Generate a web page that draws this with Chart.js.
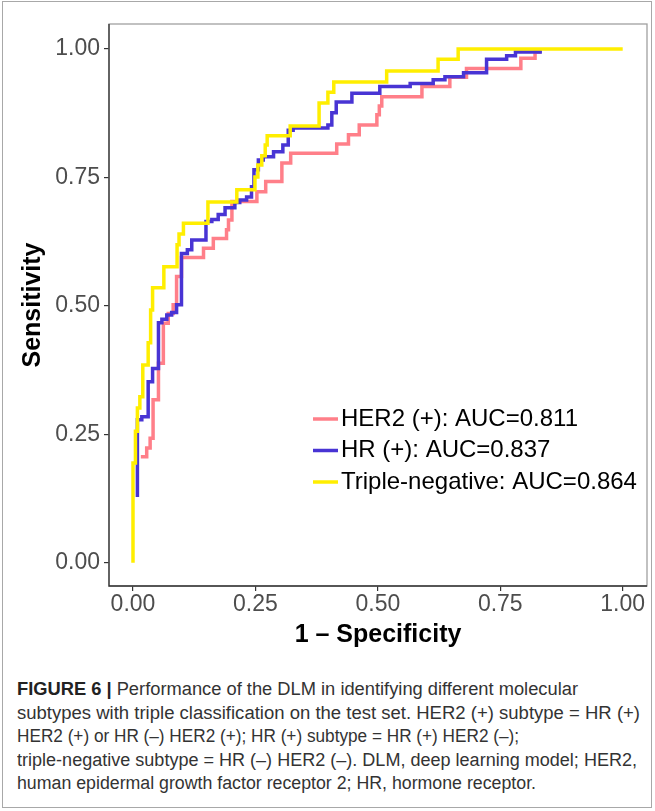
<!DOCTYPE html>
<html>
<head>
<meta charset="utf-8">
<script src="https://cdn.jsdelivr.net/npm/chart.js@4.4.1/dist/chart.umd.min.js"></script>
<style>
  html, body { margin: 0; padding: 0; background: #fff; }
  body { width: 655px; height: 811px; position: relative; overflow: hidden; }
  #frame { position: absolute; left: 2px; top: 1px; width: 650px; height: 807px; border: 1px solid #a8a8a8; box-sizing: border-box; }
  #plot { position: absolute; left: 0; top: 0; }
  #caption { position: absolute; left: 17px; top: 678px; font-family: "Liberation Sans Narrow", "Liberation Sans", Arial, sans-serif; font-size: 18px; color: #333; line-height: 23.5px; }
  #caption div { white-space: nowrap; transform-origin: 0 0; width: max-content; }
  #caption b { color: #222; }
</style>
</head>
<body>
<div id="frame"></div>
<canvas id="plot" width="655" height="660"></canvas>
<div id="caption">
  <div data-w="561"><b>FIGURE 6 |</b> Performance of the DLM in identifying different molecular</div>
  <div data-w="623">subtypes with triple classification on the test set. HER2 (+) subtype = HR (+)</div>
  <div data-w="502">HER2 (+) or HR (–) HER2 (+); HR (+) subtype = HR (+) HER2 (–);</div>
  <div data-w="620">triple-negative subtype = HR (–) HER2 (–). DLM, deep learning model; HER2,</div>
  <div data-w="519">human epidermal growth factor receptor 2; HR, hormone receptor.</div>
</div>
<script>
// ROC curves (1 - specificity, sensitivity), step corners
const her2X = [0.016, 0.028, 0.035, 0.041, 0.052, 0.062, 0.072, 0.082, 0.089, 0.099, 0.144, 0.164, 0.191, 0.195, 0.202, 0.253, 0.271, 0.304, 0.322, 0.416, 0.440, 0.462, 0.498, 0.503, 0.508, 0.590, 0.647, 0.681, 0.792, 0.821, 0.833];
const her2Y = [0.206, 0.223, 0.242, 0.317, 0.388, 0.466, 0.485, 0.502, 0.557, 0.594, 0.612, 0.631, 0.648, 0.667, 0.703, 0.722, 0.742, 0.778, 0.797, 0.815, 0.833, 0.852, 0.872, 0.889, 0.907, 0.927, 0.945, 0.962, 0.982, 0.994, 0.994];

const hrX = [0.009, 0.009, 0.018, 0.031, 0.040, 0.052, 0.059, 0.069, 0.079, 0.089, 0.099, 0.111, 0.120, 0.149, 0.161, 0.174, 0.188, 0.208, 0.218, 0.232, 0.242, 0.247, 0.256, 0.266, 0.287, 0.306, 0.317, 0.327, 0.398, 0.406, 0.415, 0.447, 0.504, 0.566, 0.613, 0.637, 0.675, 0.722, 0.763, 0.781, 0.835];
const hrY = [0.128, 0.278, 0.284, 0.352, 0.378, 0.467, 0.474, 0.482, 0.487, 0.502, 0.602, 0.609, 0.628, 0.664, 0.668, 0.678, 0.691, 0.701, 0.706, 0.712, 0.732, 0.765, 0.784, 0.790, 0.800, 0.813, 0.842, 0.846, 0.852, 0.876, 0.897, 0.914, 0.927, 0.933, 0.940, 0.946, 0.954, 0.980, 0.987, 0.994, 0.994];

const tnX = [0.000, 0.000, 0.005, 0.009, 0.014, 0.020, 0.031, 0.036, 0.040, 0.063, 0.090, 0.094, 0.103, 0.153, 0.212, 0.249, 0.255, 0.263, 0.270, 0.274, 0.321, 0.380, 0.398, 0.410, 0.518, 0.623, 0.664, 1.000];
const tnY = [0.000, 0.194, 0.256, 0.301, 0.323, 0.385, 0.428, 0.492, 0.535, 0.576, 0.619, 0.640, 0.661, 0.702, 0.726, 0.751, 0.774, 0.792, 0.813, 0.831, 0.850, 0.895, 0.916, 0.936, 0.957, 0.980, 1.000, 1.000];

const seriesNames = ['HER2 (+): AUC=0.811', 'HR (+): AUC=0.837', 'Triple-negative: AUC=0.864'];
const xTicks = [0, 0.25, 0.5, 0.75, 1];
const yTicks = [0, 0.25, 0.5, 0.75, 1];

const FONT = '"Liberation Sans", Arial, Helvetica, sans-serif';

function toPoints(xs, ys) {
    return xs.map((x, i) => ({ x: x, y: ys[i] }));
}

// panel border: grey box, darker left/bottom axis lines
const panelFrame = {
    id: 'panelFrame',
    afterDatasetsDraw(chart) {
        const { ctx, chartArea: a } = chart;
        ctx.save();
        ctx.lineWidth = 1.3;
        ctx.strokeStyle = '#a0a0a0';
        ctx.strokeRect(a.left, a.top, a.right - a.left, a.bottom - a.top);
        ctx.strokeStyle = '#333';
        ctx.beginPath();
        ctx.moveTo(a.left, a.top);
        ctx.lineTo(a.left, a.bottom);
        ctx.lineTo(a.right, a.bottom);
        ctx.stroke();
        ctx.restore();
    }
};

// legend sits inside the panel, bottom right
const insideLegend = {
    id: 'insideLegend',
    afterDraw(chart) {
        const ctx = chart.ctx;
        ctx.save();
        ctx.font = '24px ' + FONT;
        ctx.textBaseline = 'middle';
        ctx.fillStyle = '#000';
        chart.data.datasets.forEach((ds, i) => {
            const y = 419 + i * 31.5;
            ctx.strokeStyle = ds.borderColor;
            ctx.lineWidth = 3.5;
            ctx.beginPath();
            ctx.moveTo(313, y);
            ctx.lineTo(338, y);
            ctx.stroke();
            ctx.fillText(ds.label, 341, y);
        });
        ctx.restore();
    }
};

const lineStyle = { borderWidth: 3.5, pointRadius: 0, fill: false, stepped: 'before', tension: 0 };

const ctx = document.getElementById('plot').getContext('2d');
const rocChart = new Chart(ctx, {
    type: 'line',
    data: {
        datasets: [
            { label: seriesNames[0], data: toPoints(her2X, her2Y), borderColor: '#FF7F89', order: 2, ...lineStyle },
            { label: seriesNames[1], data: toPoints(hrX, hrY), borderColor: '#4834D4', order: 1, ...lineStyle },
            { label: seriesNames[2], data: toPoints(tnX, tnY), borderColor: '#FFEE00', order: 0, ...lineStyle }
        ]
    },
    options: {
        responsive: false,
        animation: false,
        layout: { padding: { top: 24, right: 8, left: 0, bottom: 0 } },
        plugins: { legend: { display: false }, tooltip: { enabled: false } },
        scales: {
            x: {
                type: 'linear',
                min: -0.049,
                max: 1.0496,
                afterBuildTicks: s => { s.ticks = xTicks.map(v => ({ value: v })); },
                afterFit: s => { s.height = 74; },
                ticks: {
                    callback: v => v.toFixed(2),
                    color: '#4d4d4d',
                    font: { family: FONT, size: 23, lineHeight: 1 },
                    padding: 2,
                    maxRotation: 0,
                    autoSkip: false
                },
                grid: { drawOnChartArea: false, drawTicks: true, tickLength: 5, color: '#333', lineWidth: 1.2 },
                border: { display: false },
                title: {
                    display: true,
                    text: '1 – Specificity',
                    color: '#000',
                    font: { family: FONT, size: 25, weight: 'bold', lineHeight: 1.2 },
                    padding: { top: 0, bottom: 10 }
                }
            },
            y: {
                type: 'linear',
                min: -0.0455,
                max: 1.0487,
                afterBuildTicks: s => { s.ticks = yTicks.map(v => ({ value: v })); },
                afterFit: s => { s.width = 109; },
                ticks: {
                    callback: v => v.toFixed(2),
                    color: '#4d4d4d',
                    font: { family: FONT, size: 23, lineHeight: 1 },
                    padding: 4,
                    autoSkip: false
                },
                grid: { drawOnChartArea: false, drawTicks: true, tickLength: 5, color: '#333', lineWidth: 1.2 },
                border: { display: false },
                title: {
                    display: true,
                    text: 'Sensitivity',
                    color: '#000',
                    font: { family: FONT, size: 25, weight: 'bold', lineHeight: 1.2 },
                    padding: { top: 18, bottom: 0 }
                }
            }
        }
    },
    plugins: [panelFrame, insideLegend]
});

// squeeze each caption line to the width it has in the figure
document.querySelectorAll('#caption div').forEach(el => {
    const target = parseFloat(el.dataset.w);
    const w = el.getBoundingClientRect().width;
    if (w > 0) el.style.transform = 'scaleX(' + (target / w).toFixed(4) + ')';
});
</script>
</body>
</html>
